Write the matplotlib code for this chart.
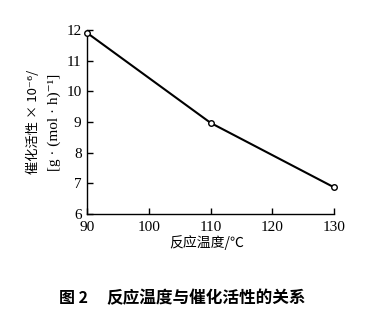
import matplotlib
matplotlib.use("Agg")
import matplotlib.pyplot as plt

temps = [90, 110, 130]
activity = [11.9, 8.97, 6.87]
xticks = [90, 100, 110, 120, 130]
yticks = [6, 7, 8, 9, 10, 11, 12]

cjk = ['Noto Sans CJK SC', 'DejaVu Sans']
serif = ['Liberation Serif', 'DejaVu Serif']

fig = plt.figure(figsize=(3.66, 3.21), dpi=100)
ax = fig.add_axes([0.238, 0.333, 0.675, 0.574])
ax.plot(temps, activity, color="black", lw=1.5, marker="o", ms=4,
        mfc="white", mec="black", mew=1.0, clip_on=False, zorder=3)
ax.set_xlim(90, 130)
ax.set_ylim(6, 12)
ax.set_xticks(xticks)
ax.set_yticks(yticks)
for s in ["top", "right"]:
    ax.spines[s].set_visible(False)
ax.spines["left"].set_linewidth(1.0)
ax.spines["bottom"].set_linewidth(1.0)
ax.tick_params(direction="in", length=4, width=1.0, labelsize=11)
ax.tick_params(axis="x", pad=5)
ax.tick_params(axis="y", pad=4)
for lab in ax.get_xticklabels() + ax.get_yticklabels():
    lab.set_family(serif)

# two-line y label
fig.text(0.09, 0.62, "催化活性 × 10⁻⁶/", rotation=90, ha="center", va="center",
         fontsize=9.5, family=cjk)
fig.text(0.148, 0.62, "[g · (mol · h)⁻¹]", rotation=90, ha="center", va="center",
         fontsize=11, family=serif)
fig.text(0.566, 0.243, "反应温度/℃", ha="center", va="center", fontsize=10, family=cjk)

# caption
fig.text(0.162, 0.072, "图 2", ha="left", va="center",
         fontsize=11.5, family=cjk, fontweight="bold")
fig.text(0.292, 0.072, "反应温度与催化活性的关系", ha="left", va="center",
         fontsize=12, family=cjk, fontweight="bold")

fig.savefig("out.png", dpi=100)
